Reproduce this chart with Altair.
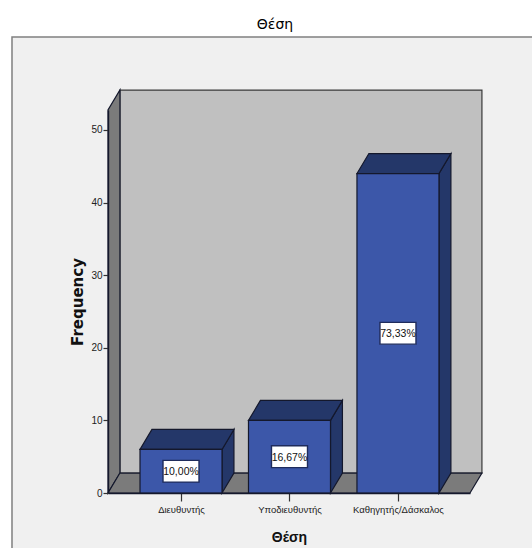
import altair as alt
import pandas as pd

# Survey counts by position
categories = ["Διευθυντής", "Υποδιευθυντής", "Καθηγητής/Δάσκαλος"]
frequencies = [6, 10, 44]
percent_labels = ["10,00%", "16,67%", "73,33%"]
y_ticks = [0, 10, 20, 30, 40, 50]

# Colours
PANEL = "#f0f0f0"
PANEL_EDGE = "#808080"
BACK_WALL = "#c0c0c0"
SIDE_WALL = "#7b7b7b"
BAR_FRONT = "#3c57a9"
BAR_SHADE = "#243769"
EDGE = "#14182c"
INK = "#222222"
NARROW = "Liberation Sans"
WIDE = "DejaVu Sans"

# Scale extents and pseudo-3D extrusion, in data units
X_MIN, X_MAX = -0.673, 2.664
Y_MIN, Y_MAX = 0, 52.75
DEPTH_X, DEPTH_Y = 0.11, 2.75
BAR_HALF = 0.378
BOX_HALF_X, BOX_HALF_Y = 0.166, 1.5
WALL_TOP = 52.75

x_scale = alt.Scale(domain=[X_MIN, X_MAX], nice=False, zero=False)
y_scale = alt.Scale(domain=[Y_MIN, Y_MAX], nice=False, zero=False)


def label_expr():
    names = ",".join(f"'{c}'" for c in categories)
    return f"[{names}][datum.value]"


x_axis = alt.Axis(
    title="Θέση",
    titleFont=NARROW,
    titleFontSize=14,
    titleFontWeight="bold",
    titleColor="#111111",
    titlePadding=17,
    values=[0, 1, 2],
    labelExpr=label_expr(),
    labelFont=NARROW,
    labelFontSize=9.5,
    labelColor=INK,
    labelPadding=3,
    labelOverlap=False,
    tickColor="#333333",
    tickSize=8,
    tickWidth=1.2,
    domainColor=EDGE,
    domainWidth=1.4,
    grid=False,
    zindex=1,
)
y_axis = alt.Axis(
    title="Frequency",
    titleFont=WIDE,
    titleFontSize=15,
    titleFontWeight="bold",
    titleColor="#111111",
    titlePadding=5,
    values=y_ticks,
    labelFont=NARROW,
    labelFontSize=10,
    labelColor=INK,
    labelPadding=1,
    tickColor="#333333",
    tickSize=5,
    tickWidth=1.2,
    domainColor=EDGE,
    domainWidth=1.4,
    grid=False,
    zindex=1,
)


def receding_face(x0, x1, v):
    """Horizontal parallelogram running from the front edge to the back edge."""
    return pd.DataFrame(
        {
            "x": [x0, x0 + DEPTH_X, x1, x1 + DEPTH_X],
            "lo": [v, v, v, v + DEPTH_Y],
            "hi": [v, v + DEPTH_Y, v + DEPTH_Y, v + DEPTH_Y],
        }
    )


def side_face(x, v0, v1):
    """Vertical parallelogram receding to the right."""
    return pd.DataFrame(
        {
            "x": [x, x + DEPTH_X],
            "lo": [v0, v0 + DEPTH_Y],
            "hi": [v1, v1 + DEPTH_Y],
        }
    )


def face(df, fill, width=1.2):
    return (
        alt.Chart(df)
        .mark_area(fill=fill, stroke=EDGE, strokeWidth=width, opacity=1, clip=False)
        .encode(
            x=alt.X("x:Q", scale=x_scale, axis=x_axis),
            y=alt.Y("lo:Q", scale=y_scale, axis=y_axis),
            y2="hi:Q",
        )
    )


def box(df, fill, stroke, width):
    return (
        alt.Chart(df)
        .mark_rect(fill=fill, stroke=stroke, strokeWidth=width, clip=False)
        .encode(
            x=alt.X("x0:Q", scale=x_scale, axis=x_axis),
            x2="x1:Q",
            y=alt.Y("y0:Q", scale=y_scale, axis=y_axis),
            y2="y1:Q",
        )
    )


layers = []

# Outer panel behind the whole chart
panel = pd.DataFrame({"x0": [-1.558], "x1": [3.6], "y0": [-9.0], "y1": [62.8]})
layers.append(box(panel, PANEL, PANEL_EDGE, 1.5))

# Chart box: back wall, left wall and floor
wall = pd.DataFrame(
    {
        "x0": [X_MIN + DEPTH_X],
        "x1": [X_MAX + DEPTH_X],
        "y0": [DEPTH_Y],
        "y1": [WALL_TOP + DEPTH_Y],
    }
)
layers.append(box(wall, BACK_WALL, "#3a3a3a", 1.2))
layers.append(face(side_face(X_MIN, Y_MIN, WALL_TOP), SIDE_WALL))
layers.append(face(receding_face(X_MIN, X_MAX, Y_MIN), SIDE_WALL))

# Extruded bars
for i, value in enumerate(frequencies):
    x0, x1 = i - BAR_HALF, i + BAR_HALF
    layers.append(face(side_face(x1, 0, value), BAR_SHADE))
    layers.append(face(receding_face(x0, x1, value), BAR_SHADE))
    front = pd.DataFrame({"x0": [x0], "x1": [x1], "y0": [0], "y1": [value]})
    layers.append(box(front, BAR_FRONT, EDGE, 1.2))

# Percentage boxes at each bar's mid-height
labels = pd.DataFrame(
    {
        "pos": range(len(categories)),
        "mid": [v / 2 for v in frequencies],
        "text": percent_labels,
    }
)
labels["x0"] = labels["pos"] - BOX_HALF_X
labels["x1"] = labels["pos"] + BOX_HALF_X
labels["y0"] = labels["mid"] - BOX_HALF_Y
labels["y1"] = labels["mid"] + BOX_HALF_Y
layers.append(box(labels, "white", "#1f2c5c", 1.4))
layers.append(
    alt.Chart(labels)
    .mark_text(font=NARROW, fontSize=10.5, dy=1, color="#111111", clip=False)
    .encode(
        x=alt.X("pos:Q", scale=x_scale, axis=x_axis),
        y=alt.Y("mid:Q", scale=y_scale, axis=y_axis),
        text="text:N",
    )
)

chart = (
    alt.layer(*layers)
    .properties(
        width=362,
        height=383,
        background="white",
        autosize=alt.AutoSizeParams(type="none"),
        padding={"left": 108, "top": 110, "right": 62, "bottom": 55},
        title=alt.TitleParams(
            "Θέση",
            font=WIDE,
            fontSize=14,
            fontWeight="normal",
            color="#000000",
            anchor="middle",
            dx=-14,
            offset=4,
        ),
    )
    .configure_view(stroke=None)
)

chart.save("out.html", embed_options={"renderer": "svg", "actions": False})
